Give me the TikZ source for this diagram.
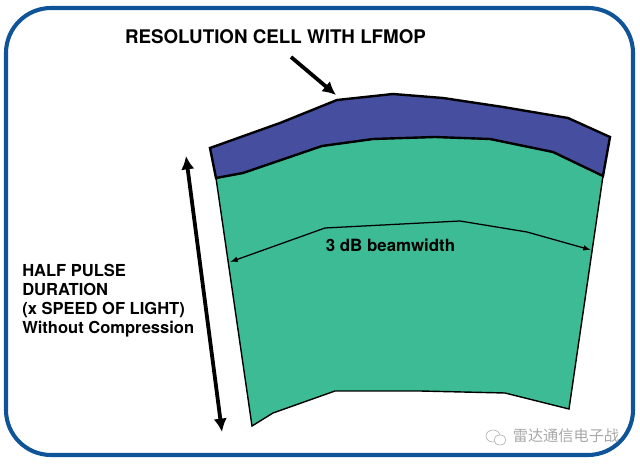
\documentclass[tikz,border=0pt]{standalone}
\usepackage{fontspec}
\setmainfont{TeX Gyre Heros}
\newfontfamily\cjkfont{Noto Sans CJK SC}
\usepackage{tikz}
\usetikzlibrary{arrows.meta,positioning}
\definecolor{frameblue}{HTML}{0F5499}
\definecolor{cellblue}{HTML}{464EA0}
\definecolor{beamgreen}{HTML}{3DBB94}
\definecolor{markgray}{HTML}{A8A8A8}
\tikzset{label text/.style = {font=\fontsize{11.75pt}{13.6pt}\selectfont\bfseries,inner sep=0pt}}
\tikzset{edge/.style = {->,> = {Latex[length=9.5pt,width=9.5pt]},line width=2.7pt}}
\tikzset{thin edge/.style = {<->,> = {Latex[length=5.5pt,width=4pt]},line width=.9pt}}
\begin{document}
\begin{tikzpicture}[x=.025cm,y=-.025cm]
\useasboundingbox (0,0) rectangle (640,464);
%outside frame
\draw[line width=2.9pt,frameblue,rounded corners=32pt] (6,8) rectangle (633,455);
%green beam area
\draw[fill=beamgreen,line width=1pt] (216,178) -- (252,426) -- (273,413) -- (335,391) -- (420,391) -- (505,393) -- (569,409) -- (603,176) -- (553,152) -- (490,139) -- (435,137) -- (373,139) -- (322,146) -- (243,173) -- cycle;
%resolution cell
\draw[fill=cellblue,line width=1.7pt,line join=miter] (210,148) -- (280,123) -- (337,100) -- (393,94) -- (443,98) -- (503,107) -- (568,118) -- (610,137) -- (603,176) -- (553,152) -- (490,139) -- (435,137) -- (373,139) -- (322,146) -- (243,173) -- (216,178) -- cycle;
%labels
\node[label text,font=\fontsize{13.35pt}{15pt}\selectfont\bfseries] (cell) at (275.5,37) {RESOLUTION CELL WITH LFMOP};
\node[label text,font=\fontsize{12pt}{15pt}\selectfont\bfseries] (beam) at (390.5,245) {3 dB beamwidth};
\node[label text,anchor=north west,align=left] (half) at (22,264) {HALF PULSE\\DURATION\\(x SPEED OF LIGHT)\\Without Compression};
%arrow to the cell
\coordinate (cellfrom) at (291,57);
\coordinate (cellto) at (336,95);
\draw[edge] (cellfrom) -- (cellto);
%pulse duration arrow
\coordinate (halftop) at (186,156);
\coordinate (halfbot) at (222,432);
\draw[edge,<->] (halftop) -- (halfbot);
%beamwidth arrow
\coordinate (beamL) at (230,262);
\coordinate (beamA) at (325,228);
\coordinate (beamB) at (460,221);
\coordinate (beamC) at (527,232);
\coordinate (beamR) at (591,250);
\draw[thin edge] (beamL) -- (beamA) -- (beamB) -- (beamC) -- (beamR);
%watermark
\draw[markgray,line width=.4pt] (493,436) ellipse (7 and 6);
\draw[markgray,line width=.4pt,fill=white] (500,440) ellipse (6 and 5);
\node[text=markgray,inner sep=0pt,font=\cjkfont\fontsize{10.8pt}{12pt}\selectfont] (mark) at (566,436) {雷达通信电子战};
\end{tikzpicture}
\end{document}
